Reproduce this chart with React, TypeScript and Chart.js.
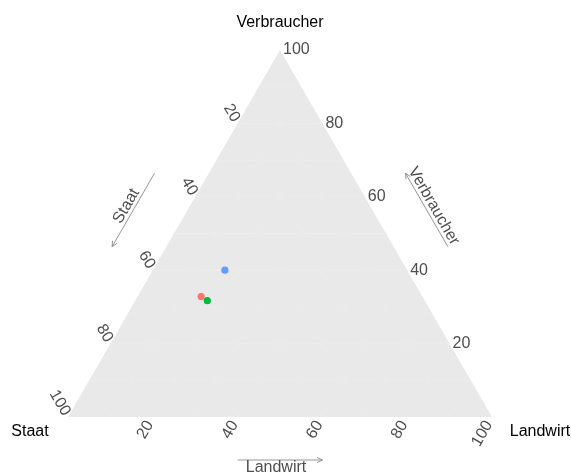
import React, { useEffect, useRef } from "react";
import { Chart, registerables } from "chart.js";
Chart.register(...registerables);

// Data (percent shares)
const groups = ["Gruppe 1", "Gruppe 2", "Gruppe 3"];
const landwirt = [15, 17, 17];
const staat = [52.2, 51.3, 43];
const verbraucher = [32.8, 31.7, 40];
const colors = ["#F8766D", "#00BA38", "#619CFF"];
const tickValues = [20, 40, 60, 80, 100];
const gridValues = [10, 20, 30, 40, 50, 60, 70, 80, 90];
const cornerTitles = { left: "Staat", right: "Landwirt", top: "Verbraucher" };
const arrowTitles = { bottom: "Landwirt", left: "Staat", right: "Verbraucher" };

const FONT = '"Liberation Sans", Arial, sans-serif';

function toXY(L: number, S: number, V: number) {
  const t = L + S + V;
  const l = L / t;
  const v = V / t;
  return { x: l + v / 2, y: v };
}

function drawArrow(ctx: CanvasRenderingContext2D, x1: number, y1: number, x2: number, y2: number) {
  ctx.beginPath();
  ctx.moveTo(x1, y1);
  ctx.lineTo(x2, y2);
  const ang = Math.atan2(y2 - y1, x2 - x1);
  const h = 6;
  const spread = Math.PI / 7;
  ctx.moveTo(x2 - h * Math.cos(ang - spread), y2 - h * Math.sin(ang - spread));
  ctx.lineTo(x2, y2);
  ctx.lineTo(x2 - h * Math.cos(ang + spread), y2 - h * Math.sin(ang + spread));
  ctx.stroke();
}

const ternaryPlugin = {
  id: "ternary",
  beforeDatasetsDraw(chart: any) {
    const { ctx, scales } = chart;
    const xs = scales.x;
    const ys = scales.y;
    const P = (l: number, v: number) => ({
      px: xs.getPixelForValue(l + v / 2),
      py: ys.getPixelForValue(v),
    });
    const A = P(0, 0);
    const B = P(1, 0);
    const C = P(0, 1);
    ctx.save();
    ctx.fillStyle = "#e9e9e9";
    ctx.beginPath();
    ctx.moveTo(A.px, A.py);
    ctx.lineTo(B.px, B.py);
    ctx.lineTo(C.px, C.py);
    ctx.closePath();
    ctx.fill();
    ctx.strokeStyle = "#ececec";
    ctx.lineWidth = 1;
    for (const g of gridValues) {
      const k = g / 100;
      const lines = [
        [P(0, k), P(1 - k, k)],
        [P(k, 0), P(k, 1 - k)],
        [P(1 - k, 0), P(0, 1 - k)],
      ];
      for (const [p, q] of lines) {
        ctx.beginPath();
        ctx.moveTo(p.px, p.py);
        ctx.lineTo(q.px, q.py);
        ctx.stroke();
      }
    }
    ctx.restore();
  },
  afterDraw(chart: any) {
    const { ctx, scales } = chart;
    const xs = scales.x;
    const ys = scales.y;
    const P = (l: number, v: number) => ({
      px: xs.getPixelForValue(l + v / 2),
      py: ys.getPixelForValue(v),
    });
    const A = P(0, 0);
    const B = P(1, 0);
    const C = P(0, 1);
    const c60 = 0.5;
    const s60 = Math.sqrt(3) / 2;
    ctx.save();
    // tick labels
    ctx.fillStyle = "#4d4d4d";
    ctx.font = `16px ${FONT}`;
    for (const t of tickValues) {
      const k = t / 100;
      // right edge: Verbraucher
      const r = P(1 - k, k);
      ctx.textAlign = "left";
      ctx.textBaseline = "middle";
      ctx.fillText(String(t), r.px + 3, r.py);
      // left edge: Staat  (S = k => V = 1-k, L = 0)
      const le = P(0, 1 - k);
      ctx.save();
      ctx.translate(le.px - c60 * 3, le.py - s60 * 3);
      ctx.rotate(Math.PI / 3);
      ctx.textAlign = "right";
      ctx.fillText(String(t), 0, 0);
      ctx.restore();
      // bottom edge: Landwirt
      const b = P(k, 0);
      ctx.save();
      ctx.translate(b.px - c60 * 6, b.py + s60 * 6);
      ctx.rotate(-Math.PI / 3);
      ctx.textAlign = "right";
      ctx.fillText(String(t), 0, 0);
      ctx.restore();
    }
    // arrows
    ctx.strokeStyle = "#8a8a8a";
    ctx.lineWidth = 0.9;
    ctx.fillStyle = "#4d4d4d";
    ctx.font = `16px ${FONT}`;
    ctx.textAlign = "center";
    ctx.textBaseline = "middle";
    // bottom
    const b1 = P(0.4, 0);
    const b2 = P(0.6, 0);
    const off = 43;
    drawArrow(ctx, b1.px, b1.py + off, b2.px, b2.py + off);
    ctx.fillText(arrowTitles.bottom, (b1.px + b2.px) / 2 - 4, b1.py + off + 8);
    // left (Staat): from S=0.4 to S=0.6
    const nL = { x: -s60, y: -c60 };
    const sOff = 47;
    const l1 = P(0, 0.6);
    const l2 = P(0, 0.4);
    drawArrow(ctx, l1.px + nL.x * sOff, l1.py + nL.y * sOff, l2.px + nL.x * sOff, l2.py + nL.y * sOff);
    ctx.save();
    ctx.translate((l1.px + l2.px) / 2 + nL.x * (sOff + 8), (l1.py + l2.py) / 2 + nL.y * (sOff + 8));
    ctx.rotate(-Math.PI / 3);
    ctx.fillText(arrowTitles.left, 0, 0);
    ctx.restore();
    // right (Verbraucher): from V=0.4 to V=0.6
    const nR = { x: s60, y: -c60 };
    const r1 = P(0.6, 0.4);
    const r2 = P(0.4, 0.6);
    drawArrow(ctx, r1.px + nR.x * sOff, r1.py + nR.y * sOff, r2.px + nR.x * sOff, r2.py + nR.y * sOff);
    ctx.save();
    ctx.translate((r1.px + r2.px) / 2 + nR.x * (sOff + 8), (r1.py + r2.py) / 2 + nR.y * (sOff + 8));
    ctx.rotate(Math.PI / 3);
    ctx.fillText(arrowTitles.right, 0, 0);
    ctx.restore();
    // corner titles
    ctx.fillStyle = "#000000";
    ctx.font = `16px ${FONT}`;
    ctx.textAlign = "center";
    ctx.fillText(cornerTitles.top, C.px, C.py - 27);
    ctx.fillText(cornerTitles.left, A.px - 38, A.py + 15);
    ctx.fillText(cornerTitles.right, B.px + 48, B.py + 15);
    ctx.restore();
  },
};

export default function App() {
  const ref = useRef<HTMLCanvasElement | null>(null);
  useEffect(() => {
    if (!ref.current) return;
    const datasets = groups.map((g, i) => {
      const p = toXY(landwirt[i], staat[i], verbraucher[i]);
      return {
        label: g,
        data: [p],
        backgroundColor: colors[i],
        borderWidth: 0,
        pointRadius: 3.6,
      };
    });
    const chart = new Chart(ref.current, {
      type: "scatter",
      data: { datasets },
      options: {
        animation: false,
        responsive: false,
        devicePixelRatio: 1,
        layout: { padding: { left: 68, right: 79, top: 50, bottom: 56 } },
        scales: {
          x: { type: "linear", min: 0, max: 1, display: false },
          y: { type: "linear", min: 0, max: 1, display: false },
        },
        plugins: { legend: { display: false }, tooltip: { enabled: false } },
      },
      plugins: [ternaryPlugin],
    });
    return () => chart.destroy();
  }, []);
  return (
    <div style={{ position: "fixed", left: 0, top: 0, width: 571, height: 473, background: "#ffffff" }}>
      <canvas ref={ref} width={571} height={473} />
    </div>
  );
}
